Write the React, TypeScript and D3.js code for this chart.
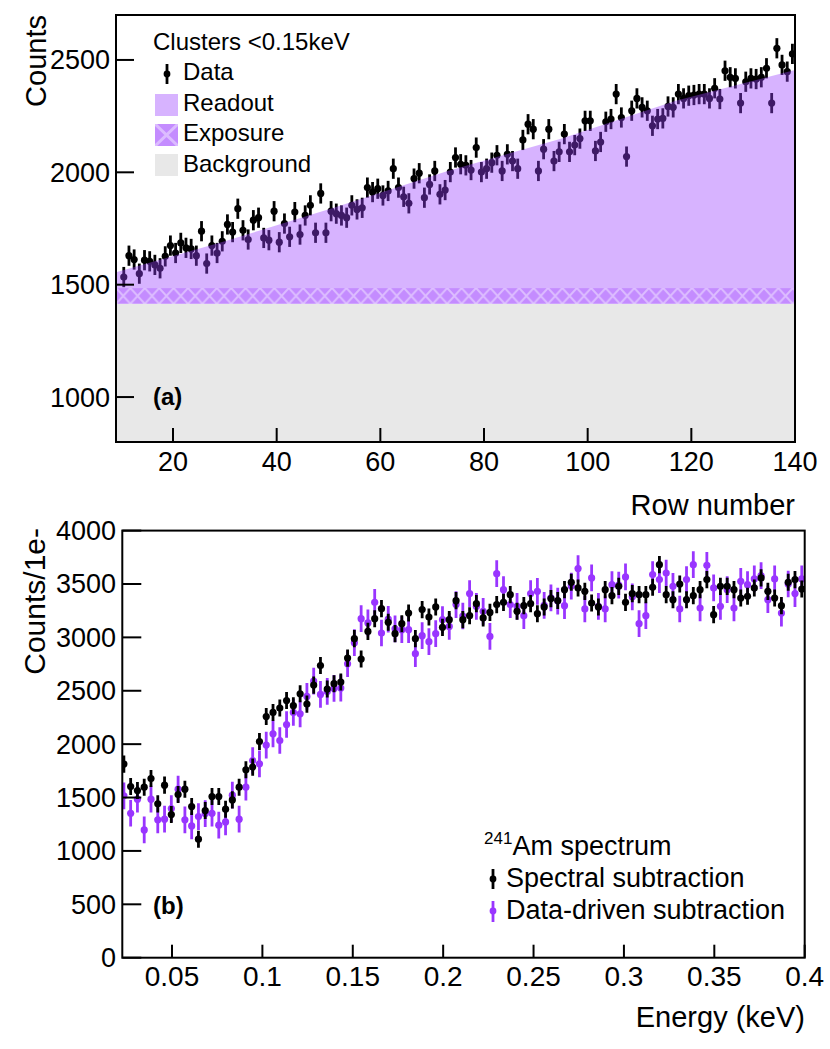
import * as d3 from 'd3';

// ---- panel (a): clusters per row ----
const ROW_START = 10;
const ROW_COUNTS = [
  1534, 1629, 1612, 1549, 1609, 1604, 1588, 1573, 1626, 1674,
  1641, 1686, 1664, 1659, 1629, 1738, 1594, 1674, 1641, 1693,
  1768, 1734, 1838, 1742, 1701, 1787, 1798, 1708, 1698, 1827,
  1689, 1772, 1713, 1823, 1723, 1808, 1853, 1731, 1906, 1731,
  1827, 1816, 1808, 1798, 1853, 1835, 1842, 1932, 1912, 1927,
  1897, 1917, 2016, 1932, 1891, 1862, 1972, 1996, 1887, 1946,
  2006, 1902, 1921, 2001, 2066, 2036, 2031, 2010, 2110, 2001,
  2016, 2043, 2076, 2006, 2080, 2050, 2016, 2144, 2214, 2192,
  2006, 2103, 2192, 2050, 2091, 2170, 2091, 2121, 2150, 2229,
  2229, 2095, 2135, 2225, 2237, 2348, 2244, 2070, 2274, 2329,
  2289, 2274, 2207, 2237, 2240, 2293, 2289, 2348, 2329, 2341,
  2344, 2348, 2348, 2329, 2374, 2326, 2452, 2423, 2418, 2308,
  2403, 2418, 2415, 2423, 2463, 2308, 2552, 2478, 2448, 2527,
];
const ROW_ERR = 45;
const READOUT_ROWS = [9, 30, 51, 73, 95, 117, 140];
const READOUT_TOP = [1555, 1693, 1842, 2006, 2150, 2318, 2455];
const EXPOSURE_TOP = 1485;
const BACKGROUND_TOP = 1415;
const ROW_TICKS = [20, 40, 60, 80, 100, 120, 140];
const COUNT_TICKS = [1000, 1500, 2000, 2500];

// ---- panel (b): 241Am spectrum ----
const ENERGY_FIRST = 0.023375;
const ENERGY_BIN = 0.00375;
const SPECTRAL = [
  1813, 1603, 1566, 1597, 1678, 1441, 1616, 1341, 1528, 1578,
  1416, 1110, 1378, 1509, 1509, 1391, 1478, 1597, 1760, 1785,
  2025, 2259, 2297, 2338, 2409, 2360, 2472, 2375, 2553, 2736,
  2516, 2566, 2582, 2806, 2988, 2797, 3056, 3175, 3269, 3141,
  3035, 3128, 3228, 2988, 3260, 3191, 3285, 3094, 3166, 3344,
  3166, 3203, 3316, 3182, 3234, 3307, 3328, 3400, 3244, 3297,
  3316, 3222, 3285, 3363, 3345, 3447, 3516, 3463, 3431, 3322,
  3285, 3447, 3391, 3478, 3328, 3410, 3400, 3400, 3469, 3681,
  3400, 3353, 3500, 3353, 3391, 3447, 3541, 3213, 3478, 3478,
  3447, 3369, 3385, 3463, 3557, 3431, 3369, 3297, 3516, 3541,
  3453,
];
const DATA_DRIVEN = [
  1516, 1353, 1485, 1197, 1485, 1291, 1297, 1397, 1578, 1291,
  1234, 1322, 1350, 1353, 1241, 1272, 1522, 1297, 1597, 1847,
  1816, 1991, 2097, 2034, 2184, 2297, 2284, 2447, 2591, 2466,
  2494, 2522, 2525, 2753, 2950, 3175, 3135, 3328, 3041, 3170,
  3080, 3072, 3072, 2847, 3016, 2960, 3035, 3166, 3103, 3307,
  3200, 3410, 3290, 3244, 3009, 3597, 3447, 3307, 3290, 3203,
  3410, 3431, 3300, 3370, 3340, 3297, 3480, 3644, 3266, 3557,
  3290, 3266, 3494, 3490, 3566, 3380, 3128, 3203, 3588, 3541,
  3603, 3478, 3266, 3541, 3681, 3275, 3675, 3463, 3291, 3447,
  3275, 3525, 3494, 3547, 3578, 3353, 3547, 3228, 3500, 3410,
  3547,
];
const SPECTRAL_ERR = 80;
const DATA_DRIVEN_ERR = 125;
const ENERGY_TICKS = [0.05, 0.1, 0.15, 0.2, 0.25, 0.3, 0.35, 0.4];
const ENERGY_TICK_LABELS = ['0.05', '0.1', '0.15', '0.2', '0.25', '0.3', '0.35', '0.4'];
const SPECTRUM_TICKS = [0, 500, 1000, 1500, 2000, 2500, 3000, 3500, 4000];

const FONT = 'Liberation Sans, Arial, Helvetica, sans-serif';
const READOUT_FILL = '#9a40ff';
const EXPOSURE_FILL = '#c48cff';
const EXPOSURE_HATCH = '#dcbcff';
const BG_FILL = '#e8e8e8';
const VIOLET = '#9935ff';

function ErrPoint({ cx, cy, y0, y1, color, r = 3.6 }: { cx: number; cy: number; y0: number; y1: number; color: string; r?: number }) {
  return (
    <g>
      <line x1={cx} x2={cx} y1={y0} y2={y1} stroke={color} strokeWidth={2.8} />
      <circle cx={cx} cy={cy} r={r} fill={color} />
    </g>
  );
}

function TopPanel() {
  const x = d3.scaleLinear().domain([9, 140]).range([116, 795]);
  const y = d3.scaleLinear().domain([800, 2700]).range([442, 15]);
  const [x0, x1] = x.range();
  const [yb, yt] = y.range();

  const readout = d3.area<number>()
    .x((_, i) => x(READOUT_ROWS[i]))
    .y0(y(EXPOSURE_TOP))
    .y1((d) => y(d))(READOUT_TOP) ?? '';

  const bandTop = y(EXPOSURE_TOP);
  const bandH = y(BACKGROUND_TOP) - bandTop;

  return (
    <g>
      <defs>
        <clipPath id="clipA">
          <rect x={x0} y={yt} width={x1 - x0} height={yb - yt} />
        </clipPath>
        <pattern id="xhatch" patternUnits="userSpaceOnUse" x={x0} y={bandTop} width={14.4} height={bandH}>
          <rect width={14.4} height={bandH} fill={EXPOSURE_FILL} />
          <path d={`M0,0L14.4,${bandH}M14.4,0L0,${bandH}`} stroke={EXPOSURE_HATCH} strokeWidth={2} />
        </pattern>
        <pattern id="xhatchLeg" patternUnits="userSpaceOnUse" x={155} y={124} width={23} height={22}>
          <rect width={23} height={22} fill={EXPOSURE_FILL} />
          <path d="M0,0L23,22M23,0L0,22" stroke={EXPOSURE_HATCH} strokeWidth={3} />
        </pattern>
      </defs>

      <g clipPath="url(#clipA)">
        <rect x={x0} y={y(BACKGROUND_TOP)} width={x1 - x0} height={yb - y(BACKGROUND_TOP)} fill={BG_FILL} />
        <rect x={x0} y={bandTop} width={x1 - x0} height={bandH} fill="url(#xhatch)" />
        {ROW_COUNTS.map((v, i) => {
          const cx = x(ROW_START + i + 0.5);
          return <ErrPoint key={i} cx={cx} cy={y(v)} y0={y(v - ROW_ERR)} y1={y(v + ROW_ERR)} color="#000" />;
        })}
        <path d={readout} fill={READOUT_FILL} fillOpacity={0.4} />
      </g>

      {/* frame + ticks */}
      <rect x={x0} y={yt} width={x1 - x0} height={yb - yt} fill="none" stroke="#000" strokeWidth={2} />
      {ROW_TICKS.map((t) => (
        <g key={t}>
          <line x1={x(t)} x2={x(t)} y1={yb} y2={yb - 14} stroke="#000" strokeWidth={2} />
          <text x={x(t)} y={471} textAnchor="middle" fontSize={27} fontFamily={FONT}>{t}</text>
        </g>
      ))}
      {COUNT_TICKS.map((t) => (
        <g key={t}>
          <line x1={x0} x2={x0 + 18} y1={y(t)} y2={y(t)} stroke="#000" strokeWidth={2} />
          <text x={110} y={y(t) + 9.5} textAnchor="end" fontSize={27} fontFamily={FONT}>{t}</text>
        </g>
      ))}
      <text x={795} y={515} textAnchor="end" fontSize={29} fontFamily={FONT}>Row number</text>
      <text transform="translate(46,15) rotate(-90)" textAnchor="end" fontSize={29} fontFamily={FONT}>Counts</text>
      <text x={153} y={405} fontSize={24} fontWeight="bold" fontFamily={FONT}>(a)</text>

      {/* legend */}
      <g fontFamily={FONT} fontSize={24}>
        <text x={153} y={50}>Clusters &lt;0.15keV</text>
        <line x1={167} x2={167} y1={64} y2={84} stroke="#000" strokeWidth={2.8} />
        <circle cx={167} cy={74} r={3.4} fill="#000" />
        <text x={183} y={80}>Data</text>
        <rect x={155} y={94} width={23} height={22} fill={READOUT_FILL} fillOpacity={0.4} />
        <text x={183} y={111}>Readout</text>
        <rect x={155} y={124} width={23} height={22} fill="url(#xhatchLeg)" />
        <text x={183} y={141}>Exposure</text>
        <rect x={155} y={154} width={23} height={22} fill={BG_FILL} />
        <text x={183} y={172}>Background</text>
      </g>
    </g>
  );
}

function BottomPanel() {
  const x = d3.scaleLinear().domain([0.0225, 0.4]).range([122.3, 804.7]);
  const y = d3.scaleLinear().domain([0, 4000]).range([957.7, 530.6]);
  const [x0, x1] = x.range();
  const [yb, yt] = y.range();
  const energy = (i: number) => ENERGY_FIRST + ENERGY_BIN * i;

  return (
    <g>
      <defs>
        <clipPath id="clipB">
          <rect x={x0} y={yt} width={x1 - x0} height={yb - yt} />
        </clipPath>
      </defs>
      <g clipPath="url(#clipB)">
        {DATA_DRIVEN.map((v, i) => (
          <ErrPoint key={`d${i}`} cx={x(energy(i))} cy={y(v)} y0={y(v - DATA_DRIVEN_ERR)} y1={y(v + DATA_DRIVEN_ERR)} color={VIOLET} />
        ))}
        {SPECTRAL.map((v, i) => (
          <ErrPoint key={`s${i}`} cx={x(energy(i))} cy={y(v)} y0={y(v - SPECTRAL_ERR)} y1={y(v + SPECTRAL_ERR)} color="#000" />
        ))}
      </g>

      <rect x={x0} y={yt} width={x1 - x0} height={yb - yt} fill="none" stroke="#000" strokeWidth={2} />
      {ENERGY_TICKS.map((t, i) => (
        <g key={t}>
          <line x1={x(t)} x2={x(t)} y1={yb} y2={yb - 13} stroke="#000" strokeWidth={2} />
          <text x={x(t)} y={986} textAnchor="middle" fontSize={28} fontFamily={FONT}>{ENERGY_TICK_LABELS[i]}</text>
        </g>
      ))}
      {SPECTRUM_TICKS.map((t) => (
        <g key={t}>
          <line x1={x0} x2={x0 + 19} y1={y(t)} y2={y(t)} stroke="#000" strokeWidth={2} />
          <text x={116} y={y(t) + 9.5} textAnchor="end" fontSize={27} fontFamily={FONT}>{t}</text>
        </g>
      ))}
      <text x={805} y={1027} textAnchor="end" fontSize={29} fontFamily={FONT}>Energy (keV)</text>
      <text transform="translate(45,528) rotate(-90)" textAnchor="end" fontSize={30} fontFamily={FONT}>Counts/1e-</text>
      <text x={153} y={914} fontSize={24} fontWeight="bold" fontFamily={FONT}>(b)</text>

      <g fontFamily={FONT} fontSize={27}>
        <text x={484} y={855}>
          <tspan fontSize={17} dy={-11}>241</tspan>
          <tspan dy={11}>Am spectrum</tspan>
        </text>
        <line x1={493} x2={493} y1={869} y2={889} stroke="#000" strokeWidth={2.8} />
        <circle cx={493} cy={879} r={3.4} fill="#000" />
        <text x={506} y={887}>Spectral subtraction</text>
        <line x1={493} x2={493} y1={901} y2={922} stroke={VIOLET} strokeWidth={2.8} />
        <circle cx={493} cy={911} r={3.4} fill={VIOLET} />
        <text x={506} y={919}>Data-driven subtraction</text>
      </g>
    </g>
  );
}

export default function App() {
  return (
    <svg
      width={830}
      height={1049}
      viewBox="0 0 830 1049"
      style={{ position: 'absolute', left: 0, top: 0, background: '#fff' }}
    >
      <rect width={830} height={1049} fill="#fff" />
      <TopPanel />
      <BottomPanel />
    </svg>
  );
}
